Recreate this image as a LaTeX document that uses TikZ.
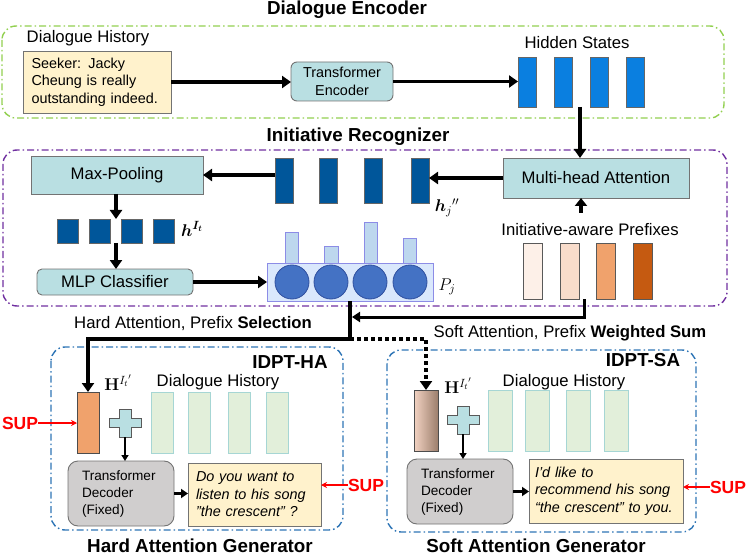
\RequirePackage{fix-cm}
\documentclass[tikz,border=0pt]{standalone}
\usepackage{amsmath,bm}
\usepackage[no-math]{fontspec}
\setmainfont{Liberation Sans}
\usetikzlibrary{arrows.meta,shapes.geometric}
\definecolor{tealc}{HTML}{B9DFE2}
\definecolor{hsblue}{HTML}{0A7FE0}
\definecolor{dkblue}{HTML}{00569A}
\definecolor{yelc}{HTML}{FFF2CC}
\definecolor{grayc}{HTML}{D0CECE}
\definecolor{grnfill}{HTML}{E2EFDA}
\definecolor{grnborder}{HTML}{A6D6D4}
\definecolor{purp}{HTML}{7030A0}
\definecolor{lgreen}{HTML}{92D050}
\definecolor{dblue}{HTML}{2E75B6}
\definecolor{pjfill}{HTML}{DAE8FC}
\definecolor{pjborder}{HTML}{8C8CE6}
\definecolor{circf}{HTML}{4472C4}
\definecolor{circb}{HTML}{2F4F9F}
\definecolor{probf}{HTML}{BDD7EE}
\definecolor{pfa}{HTML}{FDF0E8}
\definecolor{pfb}{HTML}{F8DCCB}
\definecolor{pfc}{HTML}{F0A26C}
\definecolor{pfd}{HTML}{C55A11}
\definecolor{tanl}{HTML}{F2D2C2}
\definecolor{tanr}{HTML}{9C7E6C}
\newcommand\fmain{\fontsize{16.7}{20}\selectfont}
\newcommand\fsmall{\fontsize{14.4}{17.5}\selectfont}
\newcommand\fdec{\fontsize{13.6}{17}\selectfont}
\newcommand\ftitle{\bfseries\fontsize{18.8}{22}\selectfont}
\newcommand\fsup{\bfseries\fontsize{17.5}{20}\selectfont}
\newcommand\fmath{\fontsize{17}{20}\selectfont}
\tikzset{
  every node/.style={inner sep=0pt, outer sep=0pt},
  grpbox/.style={rounded corners=14pt, line width=1.4pt, dash pattern=on 7pt off 3pt on 1.5pt off 3pt},
  tealbox/.style={draw=black!55, fill=tealc, line width=0.9pt, font=\fmain},
  hsbar/.style={draw=black!60, fill=hsblue, line width=0.8pt, minimum width=18pt, minimum height=50pt},
  dkbar/.style={draw=black!60, fill=dkblue, line width=0.8pt, minimum width=18pt, minimum height=45pt},
  dksq/.style={draw=black!60, fill=dkblue, line width=0.8pt, minimum width=21pt, minimum height=24pt},
  pfbar/.style={draw=black!65, line width=0.8pt, minimum width=19pt, minimum height=56pt},
  grbar/.style={draw=grnborder, fill=grnfill, line width=0.9pt, minimum height=61pt},
  decbox/.style={draw=black!55, fill=grayc, rounded corners=10pt, line width=0.9pt, font=\fdec, align=left, text width=78pt, inner xsep=14pt, minimum height=65pt},
  respbox/.style={draw=black!55, fill=yelc, line width=0.9pt, font=\fsmall\itshape, align=left},
  thickarrow/.style={line width=3.5pt, -{Triangle[length=9pt,width=12pt]}},
  midarrow/.style={line width=2.2pt, -{Triangle[length=7pt,width=9pt]}},
  redarrow/.style={red, line width=1.2pt, -{Stealth[length=6pt,width=6pt]}},
  suplabel/.style={text=red, font=\fsup},
  pics/plussign/.style={code={
    \draw[draw=black!65, fill=tealc, line width=0.9pt]
      (-16,-4.5) -- (-6,-4.5) -- (-6,-14) -- (6,-14) -- (6,-4.5) -- (16,-4.5)
      -- (16,4.5) -- (6,4.5) -- (6,14) -- (-6,14) -- (-6,4.5) -- (-16,4.5) -- cycle;}}
}
\begin{document}
\begin{tikzpicture}[x=1pt,y=-1pt]
\useasboundingbox (0,0) rectangle (747,556);

% ---------- group boxes ----------
\draw[grpbox, draw=lgreen] (2,26) rectangle (724,118);
\draw[grpbox, draw=purp] (3,150) rectangle (727,306);
\draw[grpbox, draw=dblue] (51,347) rectangle (343,530);
\draw[grpbox, draw=dblue] (387,350) rectangle (696,532);

\node[font=\ftitle] (tenc) at (347,10) {Dialogue Encoder};
\node[font=\ftitle] (trec) at (358,137) {Initiative Recognizer};
\node[font=\ftitle] (tha) at (290,362) {IDPT-HA};
\node[font=\ftitle] (tsa) at (643,360) {IDPT-SA};
\node[font=\ftitle] (gha) at (200,546) {Hard Attention Generator};
\node[font=\ftitle] (gsa) at (536,546) {Soft Attention Generator};

% ---------- Dialogue encoder ----------
\node[font=\fmain] (dhl) at (88,38) {Dialogue History};
\node[draw=black!55, fill=yelc, line width=0.9pt, font=\fsmall, align=left,
      text width=131pt, inner xsep=8.5pt, minimum height=62pt] (seeker) at (97,82)
      {Seeker: Jacky\\Cheung is really\\outstanding indeed.};
\node[tealbox, rounded corners=6pt, font=\fsmall, align=center, minimum width=102pt, minimum height=39pt]
      (te) at (342,81.5) {Transformer\\Encoder};
\node[font=\fmain] (hsl) at (577,43) {Hidden States};
\node[hsbar] (hs1) at (527,82) {};
\node[hsbar] (hs2) at (563,82) {};
\node[hsbar] (hs3) at (599,82) {};
\node[hsbar] (hs4) at (635,82) {};
\draw[thickarrow] (seeker.east) -- (te.west |- seeker.east);
\draw[thickarrow] (te.east) -- (hs1.west |- te.east);

% ---------- Initiative recognizer ----------
\node[tealbox, minimum width=186pt, minimum height=40pt] (mha) at (596,178) {Multi-head Attention};
\coordinate (hsb) at (580,107);
\draw[thickarrow] (hsb) -- (hsb |- mha.north);

\node[dkbar] (db1) at (284,180.5) {};
\node[dkbar] (db2) at (328,180.5) {};
\node[dkbar] (db3) at (373,180.5) {};
\node[dkbar] (db4) at (420,180.5) {};
\node[font=\fmath] (hjl) at (447,208) {$\bm{h}_j{}''$};
\draw[thickarrow] (mha.west) -- (db4.east |- mha.west);

\node[tealbox, minimum width=172pt, minimum height=38pt] (mp) at (117,175) {Max-Pooling};
\draw[thickarrow] (db1.west |- mp.east) -- (mp.east);

\node[dksq] (sq1) at (67.5,231) {};
\node[dksq] (sq2) at (100,231) {};
\node[dksq] (sq3) at (131.5,231) {};
\node[dksq] (sq4) at (163.5,231) {};
\node[font=\fmath] (hil) at (192,229) {$\bm{h}^{\bm{I_t}}$};
\coordinate (sqtop) at (116,219);
\coordinate (sqbot) at (116,243);
\draw[thickarrow] (mp.south -| sqtop) -- (sqtop);

\node[tealbox, rounded corners=5pt, minimum width=156pt, minimum height=26pt] (mlp) at (115,282) {MLP Classifier};
\draw[thickarrow] (sqbot) -- (sqbot |- mlp.north);

% probability bars
\node[draw=pjborder, fill=probf, line width=0.8pt, minimum width=13pt, minimum height=31pt] (pb1) at (291.5,247.5) {};
\node[draw=pjborder, fill=probf, line width=0.8pt, minimum width=14pt, minimum height=17pt] (pb2) at (331,254.5) {};
\node[draw=pjborder, fill=probf, line width=0.8pt, minimum width=13pt, minimum height=41pt] (pb3) at (370.5,242.5) {};
\node[draw=pjborder, fill=probf, line width=0.8pt, minimum width=13pt, minimum height=25pt] (pb4) at (409.5,250.5) {};
\node[draw=pjborder, fill=pjfill, line width=0.9pt, minimum width=166pt, minimum height=38pt] (pj) at (350,282) {};
\node[circle, draw=circb, fill=circf, line width=0.8pt, minimum size=34pt] (c1) at (292,282) {};
\node[circle, draw=circb, fill=circf, line width=0.8pt, minimum size=34pt] (c2) at (331,282) {};
\node[circle, draw=circb, fill=circf, line width=0.8pt, minimum size=34pt] (c3) at (370,282) {};
\node[circle, draw=circb, fill=circf, line width=0.8pt, minimum size=34pt] (c4) at (410,282) {};
\node[font=\fmath] (pjl) at (447,287) {$P_j$};
\draw[thickarrow] (mlp.east) -- (pj.west);

% prefixes
\node[font=\fmain] (pfl) at (590,230) {Initiative-aware Prefixes};
\coordinate (pfup) at (581,213);
\draw[thickarrow, -{Triangle[length=8pt,width=12pt]}] (pfup) -- (pfup |- mha.south);
\node[pfbar, fill=pfa] (pf1) at (532.5,271) {};
\node[pfbar, fill=pfb] (pf2) at (570,271) {};
\node[pfbar, fill=pfc] (pf3) at (605.5,271) {};
\node[pfbar, fill=pfd] (pf4) at (642.5,271) {};

% ---------- routing ----------
\coordinate (pfdown) at (584,299);
\coordinate (pjin) at (352,317);
\draw[line width=3pt, -{Triangle[length=8pt,width=10pt]}] (pfdown) |- (pjin);

\coordinate (split) at (350,339);
\node[draw=black!70, fill=pfc, line width=0.8pt, minimum width=22pt, minimum height=61pt] (ob) at (88,422.5) {};
\node[draw=black!70, left color=tanl, right color=tanr, line width=0.8pt, minimum width=24pt, minimum height=61pt] (tb) at (426,420.5) {};
\draw[thickarrow] (pj.south) -- (split) -| (ob.north);
\draw[line width=4pt, dash pattern=on 4pt off 3pt, -{Triangle[length=9pt,width=12pt]}] (split) -| (tb.north);

\node[font=\fmain] (hal) at (193,324) {Hard Attention, Prefix \textbf{Selection}};
\node[font=\fmain] (sal) at (570,333) {Soft Attention, Prefix \textbf{Weighted Sum}};

% ---------- Hard attention generator ----------
\node[font=\fmath] (hhl) at (118,383) {$\mathbf{H}^{{I_t}'}$};
\node[font=\fmain] (dh1) at (218,382) {Dialogue History};
\node[grbar, minimum width=22pt] (ga1) at (162,422.5) {};
\node[grbar, minimum width=22pt] (ga2) at (199.5,422.5) {};
\node[grbar, minimum width=22pt] (ga3) at (239.5,422.5) {};
\node[grbar, minimum width=22pt] (ga4) at (277.5,422.5) {};
\pic at (125,423) {plussign};
\coordinate (plusa) at (125,437);
\node[decbox, minimum width=106pt] (deca) at (121,493.5) {Transformer\\Decoder\\(Fixed)};
\node[respbox, text width=117pt, inner xsep=8pt, minimum height=63pt] (respa) at (254.5,494.5)
   {Do you want to\\listen to his song\\"the crescent" ?};
\draw[midarrow, line width=1.6pt, -{Triangle[length=6pt,width=7pt]}] (plusa) -- (plusa |- deca.north);
\draw[midarrow] (deca.east) -- (respa.west |- deca.east);

\node[suplabel] (sup1) at (20,423) {SUP};
\draw[redarrow] (sup1.east) -- (ob.west |- sup1.east);
\node[suplabel] (sup2) at (366,485) {SUP};
\draw[redarrow] (sup2.west) -- (respa.east |- sup2.west);

% ---------- Soft attention generator ----------
\node[font=\fmath] (hsl2) at (458,386) {$\mathbf{H}^{{I_t}'}$};
\node[font=\fmain] (dh2) at (564,382) {Dialogue History};
\node[grbar, minimum width=24pt] (gb1) at (500,420.5) {};
\node[grbar, minimum width=24pt] (gb2) at (537.5,420.5) {};
\node[grbar, minimum width=24pt] (gb3) at (578,420.5) {};
\node[grbar, minimum width=24pt] (gb4) at (616,420.5) {};
\pic at (463,420) {plussign};
\coordinate (plusb) at (463,434);
\node[decbox, minimum width=106pt] (decb) at (460,491.5) {Transformer\\Decoder\\(Fixed)};
\node[respbox, text width=142pt, inner xsep=6pt, minimum height=64pt] (respb) at (606,491)
   {I'd like to\\recommend his song\\“the crescent” to you.};
\draw[midarrow, line width=1.6pt, -{Triangle[length=6pt,width=7pt]}] (plusb) -- (plusb |- decb.north);
\draw[midarrow] (decb.east) -- (respb.west |- decb.east);

\node[suplabel] (sup3) at (728,487) {SUP};
\draw[redarrow] (sup3.west) -- (respb.east |- sup3.west);
\end{tikzpicture}
\end{document}
